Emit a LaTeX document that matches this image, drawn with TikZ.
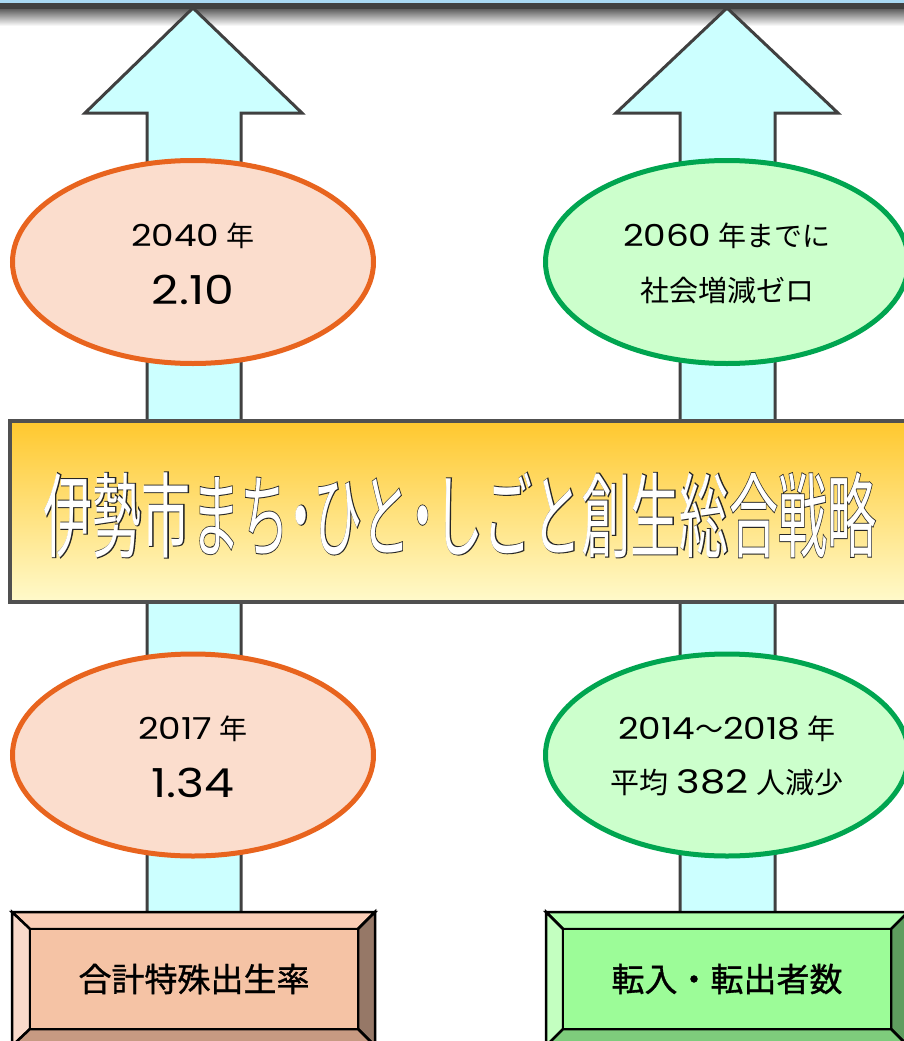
\documentclass[tikz,border=0pt]{standalone}
\usepackage{fontspec}
\setmainfont{Poppins}
\newfontfamily\jp{Noto Sans CJK JP}
\newfontfamily\jpstroke[FakeBold=2]{Noto Sans CJK JP}
\newfontfamily\jpmed[FakeBold=1]{Noto Sans CJK JP}
\usetikzlibrary{shapes.geometric}
\definecolor{arrowfill}{HTML}{CCFFFF}
\definecolor{arrowline}{HTML}{404040}
\definecolor{orangeline}{HTML}{E8641E}
\definecolor{orangefill}{HTML}{FBDDCD}
\definecolor{greenline}{HTML}{00A550}
\definecolor{greenfill}{HTML}{CCFFCC}
\definecolor{bannertop}{HTML}{FFC82E}
\definecolor{bannerbot}{HTML}{FFFACB}
\definecolor{bannerline}{HTML}{505050}
\definecolor{topblue}{HTML}{A8D8F2}
\definecolor{lTop}{HTML}{F9CDB6}
\definecolor{lLeft}{HTML}{FADACB}
\definecolor{lRight}{HTML}{967867}
\definecolor{lBot}{HTML}{C79A82}
\definecolor{lMid}{HTML}{F5C3A5}
\definecolor{gTop}{HTML}{B0FFAE}
\definecolor{gLeft}{HTML}{C3FFC0}
\definecolor{gRight}{HTML}{5F9E5F}
\definecolor{gBot}{HTML}{7ECC7C}
\definecolor{gMid}{HTML}{9CFC98}
\newcommand\bannerstr{伊勢市まち\hspace{-0.25em}・\hspace{-0.25em}ひと\hspace{-0.25em}・\hspace{-0.25em}しごと創生総合戦略}
\newcommand\wnum[1]{\scalebox{1.28}[1.08]{#1}}
\newcommand\wnumb[1]{\scalebox{1.38}[1.12]{#1}}
\begin{document}
\begin{tikzpicture}[x=1pt,y=-1pt,
  arrowshape/.style={draw=arrowline, fill=arrowfill, line width=3pt, line join=miter},
  ell/.style={ellipse, line width=5pt, inner sep=0pt},
  orangeell/.style={ell, draw=orangeline, fill=orangefill},
  greenell/.style={ell, draw=greenline, fill=greenfill},
  small/.style={font=\fontsize{28}{30}\selectfont, inner sep=0pt},
  big/.style={font=\fontsize{37}{40}\selectfont, inner sep=0pt},
  mid/.style={font=\fontsize{29}{32}\selectfont, inner sep=0pt},
  bevel/.style={draw=black, line width=2.5pt, line join=miter},
  boxtext/.style={font=\fontsize{33}{36}\selectfont\jpmed, inner sep=0pt},
  bannerfont/.style={font=\fontsize{92}{96}\selectfont, inner sep=0pt}
]
\useasboundingbox (0,0) rectangle (904,1041);
\clip (0,0) rectangle (904,1041);
% top bar
\fill[topblue] (0,0) rectangle (904,3);
\fill[top color=gray!75!black, bottom color=white] (0,9) rectangle (904,26);
\fill[arrowline] (0,3) rectangle (904,9);
% arrows
\draw[arrowshape] (193,8) -- (302,113) -- (241,113) -- (241,914) -- (147,914) -- (147,113) -- (85,113) -- cycle;
\draw[arrowshape] (727,8) -- (838,113) -- (775,113) -- (775,914) -- (680,914) -- (680,113) -- (616,113) -- cycle;
% ellipses
\node[orangeell, minimum width=361pt, minimum height=203pt] (e1) at (193,262) {};
\node[small] (e1a) at (193,236) {\wnum{2040} {\jp 年}};
\node[big] (e1b) at (193,290) {\wnum{2.10}};
\node[greenell, minimum width=363pt, minimum height=203pt] (e2) at (727,262) {};
\node[small] (e2a) at (727,236) {\wnum{2060} {\jp 年までに}};
\node[mid, font=\fontsize{29}{32}\selectfont\jp] (e2b) at (727,290) {社会増減ゼロ};
\node[orangeell, minimum width=361pt, minimum height=202pt] (e3) at (193,755) {};
\node[small] (e3a) at (193,729) {\wnum{2017} {\jp 年}};
\node[big] (e3b) at (193,783) {\wnum{1.34}};
\node[greenell, minimum width=363pt, minimum height=202pt] (e4) at (727,755) {};
\node[small] (e4a) at (727,729) {\wnum{2014}{\jp ～}\wnum{2018} {\jp 年}};
\node[mid] (e4b) at (727,783) {{\jp 平均} \wnumb{382} {\jp 人減少}};
% banner
\node[rectangle, draw=bannerline, line width=4pt, top color=bannertop, bottom color=bannerbot, minimum width=904pt, minimum height=181pt, inner sep=0pt] (banner) at (462,511.5) {};
\node[bannerfont, text=black!85] (bshadow) at (460,515) {\scalebox{0.533}[1]{\jpstroke\bannerstr}};
\node[bannerfont, text=white] (btext) at (460,515) {\scalebox{0.533}[1]{\jp\bannerstr}};
% left bottom box
\filldraw[bevel, fill=lTop] (12,912) -- (375,912) -- (358,929) -- (30,929) -- cycle;
\filldraw[bevel, fill=lLeft] (12,912) -- (30,929) -- (30,1029) -- (12,1046) -- cycle;
\filldraw[bevel, fill=lRight] (375,912) -- (375,1046) -- (358,1029) -- (358,929) -- cycle;
\filldraw[bevel, fill=lBot] (12,1046) -- (375,1046) -- (358,1029) -- (30,1029) -- cycle;
\node[bevel, fill=lMid, rectangle, minimum width=328pt, minimum height=100pt, inner sep=0pt] (lbox) at (194,979) {};
\node[boxtext] (ltext) at (lbox.center) {合計特殊出生率};
% right bottom box
\filldraw[bevel, fill=gTop] (546,912) -- (908,912) -- (891,929) -- (563,929) -- cycle;
\filldraw[bevel, fill=gLeft] (546,912) -- (563,929) -- (563,1029) -- (546,1046) -- cycle;
\filldraw[bevel, fill=gRight] (908,912) -- (908,1046) -- (891,1029) -- (891,929) -- cycle;
\filldraw[bevel, fill=gBot] (546,1046) -- (908,1046) -- (891,1029) -- (563,1029) -- cycle;
\node[bevel, fill=gMid, rectangle, minimum width=328pt, minimum height=100pt, inner sep=0pt] (rbox) at (727,979) {};
\node[boxtext] (rtext) at (rbox.center) {転入・転出者数};
\end{tikzpicture}
\end{document}
